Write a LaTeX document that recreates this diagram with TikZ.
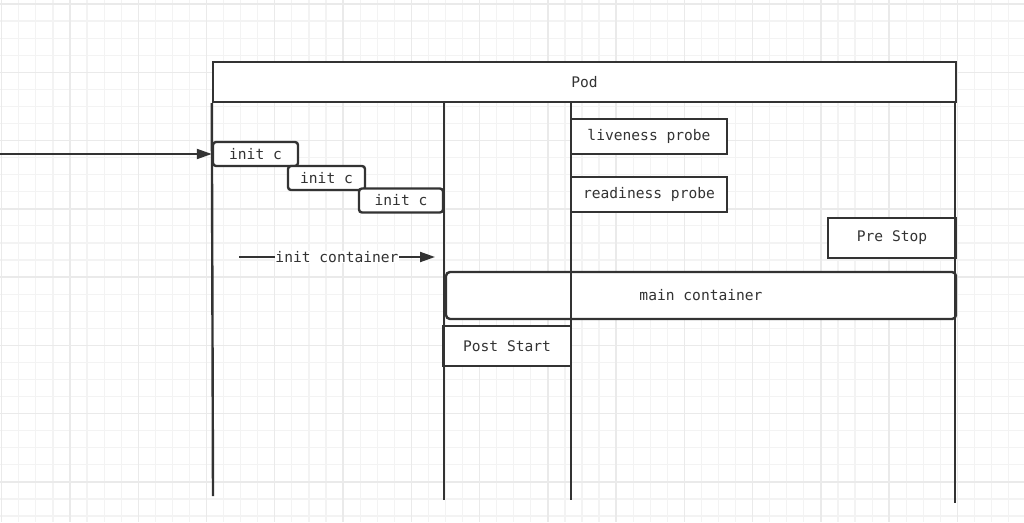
\documentclass[tikz,border=0pt]{standalone}
\usepackage{fontspec}
\setmonofont{DejaVu Sans Mono}
\usetikzlibrary{arrows.meta}
\definecolor{ink}{HTML}{333333}
\definecolor{minorgrid}{HTML}{F3F3F3}
\definecolor{majorgrid}{HTML}{EAEAEA}
\begin{document}
\begin{tikzpicture}
    [x=1pt,y=-1pt,
     txt/.style={font=\ttfamily\fontsize{14.6}{17}\selectfont,text=ink},
     box/.style={shape=rectangle,draw=ink,line width=2.4pt,fill=white,inner sep=0pt,txt},
     initbox/.style={box,rounded corners=3pt,minimum height=24pt},
     life/.style={draw=ink,line width=2.4pt},
     pre/.style={-{Triangle[length=15pt,width=10pt]},draw=ink,line width=2pt}]
    \useasboundingbox (0,0) rectangle (1024,522);
    \fill [white] (0,0) rectangle (1024,522);
    % background grid
    \foreach \i in {0,...,60}
      \draw [minorgrid,line width=1.2pt] ({1.7+\i*17.0667},0) -- ({1.7+\i*17.0667},522);
    \foreach \j in {0,...,30}
      \draw [minorgrid,line width=1.2pt] (0,{4+\j*17.0667}) -- (1024,{4+\j*17.0667});
    \foreach \i in {0,...,15}
      \draw [majorgrid,line width=1.4pt] ({1.7+\i*68.267},0) -- ({1.7+\i*68.267},522);
    \foreach \j in {0,...,7}
      \draw [majorgrid,line width=1.4pt] (0,{4+\j*68.267}) -- (1024,{4+\j*68.267});

    \node [box,minimum width=743pt,minimum height=40pt] (pod) at (584.5,82) {Pod};
    \node [initbox,minimum width=85pt] (ic1) at (255.5,154) {init c};
    \node [initbox,minimum width=77pt] (ic2) at (326.5,178) {init c};
    \node [initbox,minimum width=84pt] (ic3) at (401,200.5) {init c};
    \node [box,minimum width=156pt,minimum height=35pt] (live) at (649,136.5) {liveness probe};
    \node [box,minimum width=156pt,minimum height=35pt] (ready) at (649,194.5) {readiness probe};
    \node [box,minimum width=128pt,minimum height=40pt] (prestop) at (892,238) {Pre Stop};
    \node [box,rounded corners=4pt,minimum width=510pt,minimum height=47pt] (main) at (701,295.5) {main container};
    \node [box,minimum width=128pt,minimum height=40pt] (poststart) at (507,346) {Post Start};

    % lifelines
    \coordinate (l1) at (213,496);
    \coordinate (l2) at (444,500);
    \coordinate (l3) at (571,500);
    \coordinate (l4) at (955,503);
    \draw [life] (pod.south west) -- (l1);
    \draw [life] (pod.south -| l2) -- (l2);
    \draw [life] (pod.south -| l3) -- (l3);
    \draw [life] (pod.south -| l4) -- (l4);

    % arrows
    \coordinate (src) at (0,154);
    \draw [pre] (src) -- (ic1.west);
    \coordinate (ica) at (239,257);
    \coordinate (icb) at (435,257);
    \draw [pre] (ica) -- node [txt,fill=white,inner sep=0pt] (iclabel) {init container} (icb);
  \end{tikzpicture}
\end{document}
